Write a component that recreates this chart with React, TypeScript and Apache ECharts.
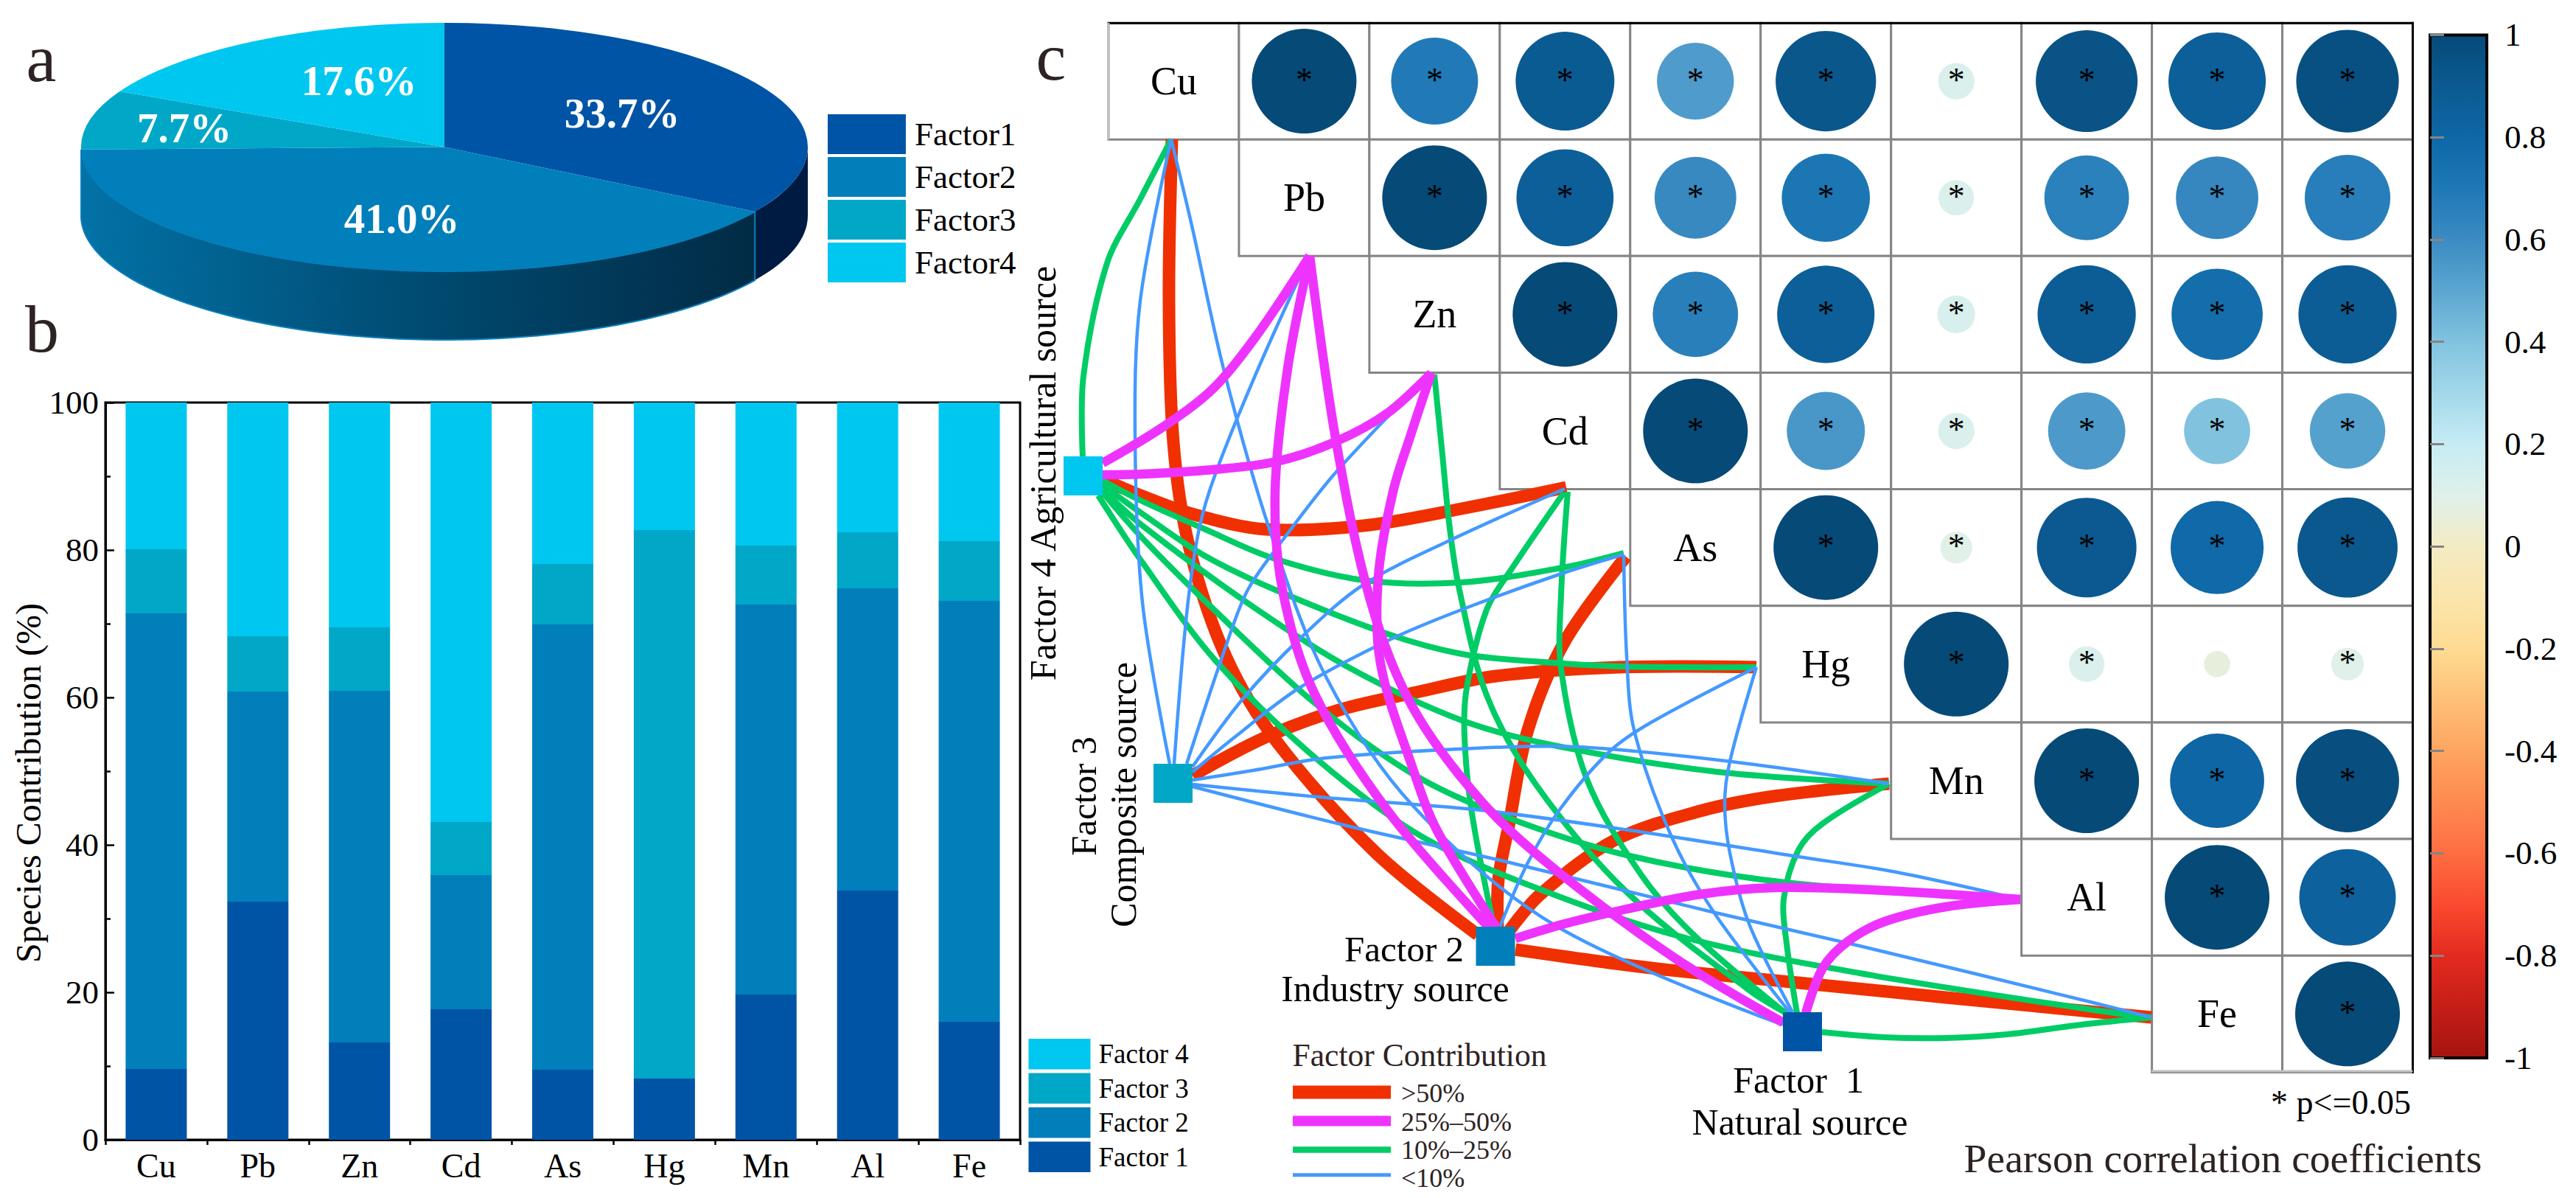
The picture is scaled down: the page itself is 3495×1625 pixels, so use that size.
import React, { useEffect, useRef } from "react";
import * as echarts from "echarts";

const W = 3495;
const H = 1625;
const SERIF = "Liberation Serif";

// ---------- data ----------
const pieNames = ["Factor1", "Factor2", "Factor3", "Factor4"];
const pieShares = [33.7, 41.0, 7.7, 17.6];
const pieLabels = ["33.7%", "41.0%", "7.7%", "17.6%"];

const elements = ["Cu", "Pb", "Zn", "Cd", "As", "Hg", "Mn", "Al", "Fe"];
const factorNames = ["Factor 1", "Factor 2", "Factor 3", "Factor 4"];
const factor1 = [9.6, 32.3, 13.2, 17.7, 9.5, 8.3, 19.7, 33.8, 16.0];
const factor2 = [61.8, 28.5, 47.7, 18.2, 60.4, 0, 52.9, 41.0, 57.1];
const factor3 = [8.7, 7.5, 8.6, 7.2, 8.2, 74.4, 8.0, 7.6, 8.1];
const factor4 = [19.9, 31.7, 30.5, 56.9, 21.9, 17.3, 19.4, 17.6, 18.8];
const factorValues = [factor1, factor2, factor3, factor4];

const rowCu = [1, 0.69, 0.89, 0.54, 0.92, 0.12, 0.945, 0.865, 0.96];
const rowPb = [1, 0.86, 0.61, 0.71, 0.115, 0.655, 0.62, 0.67];
const rowZn = [1, 0.665, 0.865, 0.13, 0.88, 0.76, 0.88];
const rowCd = [1, 0.557, 0.12, 0.545, 0.4, 0.52];
const rowAs = [1, 0.092, 0.905, 0.79, 0.915];
const rowHg = [1, 0.115, 0.0625, 0.098];
const rowMn = [1, 0.81, 0.97];
const rowAl = [1, 0.85];
const rowFe = [1];
const correlationRows = [rowCu, rowPb, rowZn, rowCd, rowAs, rowHg, rowMn, rowAl, rowFe];
const notSignificant = ["Hg-Al"];

const colorbarTicks = [-1, 1];

// ---------- style and layout ----------
const factorColors = ["#0054a6", "#007fbb", "#00a7c7", "#00c7f0"];
const scaleColors = [
  "#a6140e", "#c41e17", "#e42a20", "#fa4a2f", "#fe6d42", "#fe8a50", "#fea560",
  "#febf78", "#fedb92", "#fbe5ac", "#f3ebc4", "#dff1ea", "#c6ecf4", "#a3d8ea",
  "#81c3df", "#5ba6d1", "#3c8bc2", "#1e78b6", "#0e67a6", "#0b5a91", "#064a78",
];
const contributionClasses = [
  { label: ">50%", color: "#f03000", width: 17, legend: 18, min: 50 },
  { label: "25%–50%", color: "#ee33ff", width: 12.5, legend: 14, min: 25 },
  { label: "10%–25%", color: "#00cc66", width: 8, legend: 8.5, min: 10 },
  { label: "<10%", color: "#4499ff", width: 4.5, legend: 5, min: -1 },
];
const classDrawOrder = [0, 2, 3, 1];

const factorNodes = [
  [2445.5, 1399.5],
  [2029, 1283.5],
  [1591.5, 1062.5],
  [1469.5, 645.5],
];

// Routes of the connecting curves on the page, indexed [element][factor]
const routes: Record<string, number[][]> = {
  "Cu-3": [[1469, 620], [1470, 510], [1502, 357], [1547, 270], [1589, 189]],
  "Cu-1": [[1590, 189], [1586, 408], [1592, 600], [1613, 740], [1663, 890], [1733, 1007], [1867, 1157], [2005, 1268]],
  "Cu-2": [[1589, 189], [1547, 408], [1540, 590], [1550, 817], [1587, 1036]],
  "Cu-0": [[1589, 189], [1617, 306], [1660, 500], [1723, 720], [1800, 920], [1917, 1093], [2113, 1257], [2419, 1390]],
  "Pb-3": [[1496, 628], [1575, 581], [1645, 528], [1702, 459], [1777, 347]],
  "Pb-1": [[1777, 347], [1747, 500], [1730, 667], [1740, 800], [1783, 940], [1883, 1100], [2020, 1258]],
  "Pb-0": [[1777, 347], [1813, 600], [1860, 817], [1917, 960], [2010, 1087], [2107, 1177], [2273, 1300], [2419, 1387]],
  "Pb-2": [[1593, 1036], [1610, 833], [1627, 717], [1650, 640], [1707, 500], [1775, 350]],
  "Zn-3": [[1496, 644], [1550, 643], [1633, 638], [1727, 627], [1810, 600], [1883, 560], [1942, 506]],
  "Zn-1": [[1942, 506], [1913, 593], [1890, 667], [1870, 783], [1873, 900], [1917, 1043], [1950, 1127], [2030, 1258]],
  "Zn-0": [[1946, 508], [1957, 617], [1967, 717], [1980, 800], [2017, 943], [2083, 1063], [2207, 1210], [2373, 1343], [2425, 1375]],
  "Zn-2": [[1610, 1036], [1663, 877], [1693, 800], [1740, 733], [1813, 640], [1937, 510]],
  "Cd-3": [[1496, 650], [1550, 673], [1617, 697], [1717, 718], [1850, 713], [1983, 690], [2125, 661]],
  "Cd-1": [[2122, 668], [2050, 773], [2017, 827], [1990, 933], [1987, 1000], [1997, 1103], [2027, 1258]],
  "Cd-0": [[2127, 667], [2118, 807], [2118, 907], [2153, 1057], [2227, 1187], [2300, 1270], [2425, 1376]],
  "Cd-2": [[1618, 1040], [1687, 947], [1767, 863], [1850, 793], [1967, 733], [2123, 663]],
  "As-3": [[1496, 652], [1550, 680], [1633, 717], [1727, 757], [1850, 787], [1983, 790], [2120, 770], [2203, 750]],
  "As-1": [[2206, 755], [2123, 870], [2073, 990], [2047, 1120], [2033, 1193], [2032, 1258]],
  "As-0": [[2203, 753], [2207, 890], [2217, 990], [2267, 1133], [2327, 1240], [2430, 1375]],
  "As-2": [[1618, 1047], [1675, 1000], [1763, 933], [1887, 867], [1983, 827], [2113, 780], [2203, 752]],
  "Hg-3": [[1496, 658], [1550, 697], [1633, 753], [1730, 800], [1883, 860], [1983, 887], [2080, 897], [2200, 904], [2383, 905]],
  "Hg-2": [[1618, 1052], [1717, 1000], [1817, 963], [1917, 940], [2030, 917], [2197, 905], [2383, 905]],
  "Hg-1": [[2035, 1257], [2073, 1170], [2117, 1097], [2183, 1020], [2240, 980], [2383, 905]],
  "Hg-0": [[2383, 905], [2347, 1033], [2340, 1090], [2347, 1157], [2373, 1253], [2432, 1373]],
  "Mn-3": [[1496, 664], [1550, 713], [1700, 823], [1833, 907], [1983, 977], [2113, 1012], [2330, 1047], [2563, 1063]],
  "Mn-2": [[1618, 1058], [1700, 1045], [1800, 1028], [2000, 1015], [2140, 1013], [2340, 1032], [2563, 1063]],
  "Mn-1": [[2563, 1063], [2407, 1080], [2307, 1100], [2190, 1140], [2090, 1213], [2048, 1262]],
  "Mn-0": [[2563, 1063], [2473, 1117], [2440, 1153], [2420, 1220], [2424, 1280], [2438, 1374]],
  "Al-3": [[1496, 668], [1550, 730], [1643, 823], [1783, 953], [1917, 1050], [2040, 1107], [2207, 1160], [2423, 1197], [2741, 1220]],
  "Al-2": [[1618, 1064], [1800, 1082], [2000, 1098], [2190, 1123], [2440, 1162], [2573, 1183], [2741, 1220]],
  "Al-1": [[2056, 1273], [2123, 1253], [2207, 1233], [2307, 1213], [2407, 1204], [2540, 1207], [2741, 1220]],
  "Al-0": [[2741, 1220], [2640, 1230], [2557, 1250], [2507, 1277], [2473, 1313], [2450, 1374]],
  "Fe-3": [[1490, 672], [1550, 763], [1650, 897], [1787, 1030], [1933, 1137], [2107, 1213], [2290, 1273], [2523, 1320], [2840, 1370], [2919, 1380]],
  "Fe-2": [[1618, 1067], [1827, 1120], [2040, 1168], [2323, 1237], [2523, 1283], [2840, 1360], [2919, 1380]],
  "Fe-1": [[2056, 1288], [2240, 1313], [2440, 1333], [2640, 1353], [2919, 1380]],
  "Fe-0": [[2472, 1400], [2557, 1407], [2640, 1408], [2723, 1403], [2823, 1390], [2919, 1380]],
};

const PIE = { cx: 603, cy: 199.5, rx: 493, ry: 168.5, depth: 93 };
const pieLabelAt = [[844, 153], [545, 296], [250, 173], [487, 109]];
const MATRIX = { left: 1504, top: 31, width: 1769.5, height: 1423.4 };

function pieRenderer(index: number) {
  const total = pieShares.reduce((a, b) => a + b, 0);
  const before = pieShares.slice(0, index).reduce((a, b) => a + b, 0);
  return (_p: any, api: any) => {
    const a = (before / total) * 360;
    const b = a + (api.value(0) / total) * 360;
    const children: any[] = [];
    const from = Math.max(a, 90);
    const to = Math.min(b, 270);
    if (from < to) {
      const top: number[][] = [];
      const low: number[][] = [];
      const steps = Math.max(2, Math.ceil((to - from) / 2));
      for (let i = 0; i <= steps; i++) {
        const t = ((from + ((to - from) * i) / steps) * Math.PI) / 180;
        const x = PIE.cx + PIE.rx * Math.sin(t);
        const y = PIE.cy - PIE.ry * Math.cos(t);
        top.push([x, y]);
        low.unshift([x, y + PIE.depth]);
      }
      const fill =
        index === 1
          ? new echarts.graphic.LinearGradient(1, 0, 0, 0, [
              { offset: 0, color: "#022b45" },
              { offset: 0.5, color: "#004b72" },
              { offset: 1, color: "#0272a6" },
            ])
          : index === 0
          ? "#001b42"
          : "#0272a6";
      children.push({
        type: "polygon",
        shape: { points: top.concat(low) },
        style: { fill, stroke: index === 1 ? "#0a7fbb" : "none", lineWidth: 2 },
      });
    }
    children.push({
      type: "sector",
      x: PIE.cx,
      y: PIE.cy,
      scaleY: PIE.ry / PIE.rx,
      shape: {
        cx: 0,
        cy: 0,
        r0: 0,
        r: PIE.rx,
        startAngle: ((a - 90) * Math.PI) / 180,
        endAngle: ((b - 90) * Math.PI) / 180,
        clockwise: true,
      },
      style: { fill: factorColors[index] },
    });
    children.push({
      type: "text",
      x: pieLabelAt[index][0],
      y: pieLabelAt[index][1],
      z2: 10,
      style: {
        text: pieLabels[index],
        fill: "#fff",
        fontFamily: SERIF,
        fontWeight: "bold",
        fontSize: 57,
        align: "center",
        verticalAlign: "middle",
      },
    });
    return { type: "group", children };
  };
}

function classOf(share: number) {
  return contributionClasses.findIndex((c) => share > c.min);
}

function text(t: string, x: number, y: number, fontSize: number, extra: any = {}) {
  const { rotation, fill, align, ...rest } = extra;
  return {
    type: "text",
    x,
    y,
    rotation: rotation || 0,
    z: 20,
    silent: true,
    style: {
      text: t,
      fontFamily: SERIF,
      fontSize,
      fill: fill || "#000",
      align: align || "center",
      verticalAlign: "middle",
      ...rest,
    },
  };
}

function buildOption(): any {
  const series: any[] = [];

  // panel a
  pieNames.forEach((name, i) => {
    series.push({
      type: "custom",
      name,
      coordinateSystem: "none",
      renderItem: pieRenderer(i),
      itemStyle: { color: factorColors[i] },
      data: [[pieShares[i]]],
      silent: true,
    });
  });

  // panel b
  factorNames.forEach((name, i) => {
    series.push({
      type: "bar",
      name,
      stack: "species",
      xAxisIndex: 0,
      yAxisIndex: 0,
      barWidth: 83,
      itemStyle: { color: factorColors[i] },
      data: factorValues[i],
      silent: true,
    });
  });

  // panel c, cells
  const cellData: number[][] = [];
  correlationRows.forEach((_r, row) => {
    for (let col = row; col < 10; col++) cellData.push([col, row]);
  });
  series.push({
    type: "custom",
    name: "cells",
    xAxisIndex: 2,
    yAxisIndex: 1,
    clip: false,
    silent: true,
    z: 1,
    renderItem: (_p: any, api: any) => {
      const c = api.coord([api.value(0), api.value(1)]);
      const s = api.size([1, 1]);
      return {
        type: "rect",
        shape: { x: c[0] - s[0] / 2, y: c[1] - s[1] / 2, width: s[0], height: s[1] },
        style: { fill: "#fff", stroke: "#858585", lineWidth: 3 },
      };
    },
    data: cellData,
  });

  // diagonal names
  series.push({
    type: "custom",
    name: "names",
    xAxisIndex: 2,
    yAxisIndex: 1,
    clip: false,
    silent: true,
    z: 6,
    renderItem: (p: any, api: any) => {
      const c = api.coord([api.value(0), api.value(1)]);
      return {
        type: "text",
        x: c[0],
        y: c[1],
        style: {
          text: elements[p.dataIndex],
          fontFamily: SERIF,
          fontSize: 54,
          fill: "#000",
          align: "center",
          verticalAlign: "middle",
        },
      };
    },
    data: elements.map((_e, i) => [i, i]),
  });

  // correlation circles
  const circleData: any[] = [];
  correlationRows.forEach((values, row) => {
    values.forEach((r, k) => {
      const col = row + 1 + k;
      const pair = `${elements[row]}-${elements[col - 1]}`;
      circleData.push({
        value: [col, row, r],
        label: { show: !notSignificant.includes(pair) },
      });
    });
  });
  const circleIndex = series.length;
  series.push({
    type: "scatter",
    name: "Pearson",
    xAxisIndex: 2,
    yAxisIndex: 1,
    z: 4,
    silent: true,
    symbol: "circle",
    symbolSize: (v: number[]) => 142 * Math.sqrt(Math.abs(v[2])),
    itemStyle: { opacity: 1 },
    label: {
      show: true,
      position: "inside",
      formatter: "*",
      color: "#000",
      fontFamily: SERIF,
      fontSize: 46,
      offset: [0, -2],
    },
    data: circleData,
  });

  // colorbar
  series.push({
    type: "custom",
    name: "scale",
    xAxisIndex: 3,
    yAxisIndex: 2,
    clip: false,
    silent: true,
    z: 2,
    renderItem: (_p: any, api: any) => {
      const a = api.coord([0, api.value(1)]);
      const b = api.coord([1, api.value(0)]);
      return {
        type: "rect",
        shape: { x: a[0], y: a[1], width: b[0] - a[0], height: b[1] - a[1] },
        style: {
          fill: new echarts.graphic.LinearGradient(
            0,
            0,
            0,
            1,
            scaleColors
              .slice()
              .reverse()
              .map((color, i) => ({ offset: i / (scaleColors.length - 1), color }))
          ),
          stroke: "#000",
          lineWidth: 4,
        },
      };
    },
    data: [colorbarTicks],
  });

  // connecting curves
  classDrawOrder.forEach((cls) => {
    const spec = contributionClasses[cls];
    const edges: any[] = [];
    elements.forEach((el, e) => {
      factorValues.forEach((values, f) => {
        if (classOf(values[e]) === cls) edges.push([e, f, values[e]]);
      });
    });
    series.push({
      type: "custom",
      name: spec.label,
      xAxisIndex: 4,
      yAxisIndex: 3,
      clip: false,
      silent: true,
      z: 8,
      encode: { x: 0, y: 1 },
      renderItem: (_p: any, api: any) => {
        const key = `${elements[api.value(0)]}-${api.value(1)}`;
        const points = (routes[key] || []).map((pt) => api.coord(pt));
        return {
          type: "polyline",
          shape: { points, smooth: 0.33 },
          style: { fill: "none", stroke: spec.color, lineWidth: spec.width },
        };
      },
      data: edges,
    });
  });

  // factor nodes
  series.push({
    type: "scatter",
    name: "nodes",
    xAxisIndex: 4,
    yAxisIndex: 3,
    z: 12,
    silent: true,
    symbol: "rect",
    symbolSize: 53,
    itemStyle: { opacity: 1 },
    data: factorNodes.map((p, i) => ({ value: p, itemStyle: { color: factorColors[i], opacity: 1 } })),
  });

  const lineLegend: any[] = [];
  const legendY = [1481.6, 1520.5, 1559.5, 1593.7];
  const legendTextY = [1483, 1522, 1560, 1597.5];
  contributionClasses.forEach((c, i) => {
    lineLegend.push({
      type: "rect",
      z: 20,
      silent: true,
      shape: { x: 1754, y: legendY[i] - c.legend / 2, width: 133, height: c.legend },
      style: { fill: c.color },
    });
    lineLegend.push(text(c.label, 1901, legendTextY[i], 36, { align: "left", fill: "#2d2323" }));
  });

  return {
    animation: false,
    backgroundColor: "#fff",
    textStyle: { fontFamily: SERIF },
    legend: [
      {
        data: pieNames,
        orient: "vertical",
        left: 1123,
        top: 155,
        padding: 0,
        icon: "rect",
        itemWidth: 106,
        itemHeight: 54,
        itemGap: 4,
        selectedMode: false,
        textStyle: { fontFamily: SERIF, fontSize: 45, color: "#000", padding: [0, 0, 0, 7] },
      },
      {
        data: factorNames.slice().reverse(),
        orient: "vertical",
        left: 1395.5,
        top: 1409,
        padding: 0,
        icon: "rect",
        itemWidth: 84,
        itemHeight: 41.5,
        itemGap: 5,
        selectedMode: false,
        textStyle: { fontFamily: SERIF, fontSize: 37, color: "#000", padding: [0, 0, 0, 6] },
      },
    ],
    grid: [
      { left: 143, top: 546, width: 1241, height: 1000, show: true, borderColor: "#000", borderWidth: 3, backgroundColor: "transparent" },
      { left: MATRIX.left, top: MATRIX.top, width: MATRIX.width, height: MATRIX.height },
      { left: 3297, top: 47.4, width: 77, height: 1387.6 },
      { left: 0, top: 0, width: W, height: H },
    ],
    xAxis: [
      {
        gridIndex: 0,
        type: "category",
        data: elements,
        axisLine: { lineStyle: { color: "#000", width: 3 } },
        axisTick: { alignWithLabel: true, length: 12, lineStyle: { color: "#000", width: 2.5 } },
        axisLabel: { fontFamily: SERIF, fontSize: 46, color: "#000", margin: 12, interval: 0 },
      },
      {
        gridIndex: 0,
        type: "value",
        min: 0,
        max: 9,
        interval: 1,
        position: "bottom",
        axisLine: { show: false },
        axisTick: { show: true, length: 7, lineStyle: { color: "#000", width: 2.5 } },
        axisLabel: { show: false },
        splitLine: { show: false },
      },
      {
        gridIndex: 1,
        type: "category",
        data: [""].concat(elements),
        position: "top",
        z: 7,
        axisLine: { onZero: false, lineStyle: { color: "#000", width: 3 } },
        axisTick: { show: false },
        axisLabel: { show: false },
      },
      {
        gridIndex: 2,
        type: "value",
        min: 0,
        max: 1,
        show: false,
      },
      {
        gridIndex: 3,
        type: "value",
        min: 0,
        max: W,
        show: false,
      },
    ],
    yAxis: [
      {
        gridIndex: 0,
        type: "value",
        min: 0,
        max: 100,
        interval: 20,
        name: "Species Contribution (%)",
        nameLocation: "middle",
        nameGap: 63,
        nameRotate: 90,
        nameTextStyle: { fontFamily: SERIF, fontSize: 48, color: "#000", padding: [0, 32, 0, 0] },
        axisLine: { show: true, lineStyle: { color: "#000", width: 3 } },
        axisTick: { show: true, inside: true, length: 12, lineStyle: { color: "#000", width: 2.5 } },
        minorTick: { show: true, splitNumber: 2, length: 7, lineStyle: { color: "#000", width: 2.5 } },
        axisLabel: { fontFamily: SERIF, fontSize: 45, color: "#000", margin: 9 },
        splitLine: { show: false },
      },
      {
        gridIndex: 1,
        type: "category",
        data: elements,
        inverse: true,
        position: "right",
        z: 7,
        axisLine: { onZero: false, lineStyle: { color: "#000", width: 3 } },
        axisTick: { show: false },
        axisLabel: { show: false },
      },
      {
        gridIndex: 2,
        type: "value",
        min: -1,
        max: 1,
        interval: 0.2,
        position: "right",
        z: 7,
        axisLine: { show: false },
        axisTick: { show: true, length: 19, lineStyle: { color: "#858585", width: 3 } },
        axisLabel: { fontFamily: SERIF, fontSize: 45, color: "#000", margin: 24 },
        splitLine: { show: false },
      },
      {
        gridIndex: 3,
        type: "value",
        min: 0,
        max: H,
        inverse: true,
        show: false,
      },
    ],
    visualMap: {
      show: false,
      type: "continuous",
      seriesIndex: circleIndex,
      dimension: 2,
      min: -1,
      max: 1,
      inRange: { color: scaleColors },
    },
    graphic: {
      elements: [
        text("a", 56, 79, 92, { fill: "#2d2323" }),
        text("b", 57, 446, 92, { fill: "#2d2323" }),
        text("c", 1426, 77, 92, { fill: "#2d2323" }),
        text("Factor 4 Agricultural source", 1415, 642, 50, { rotation: Math.PI / 2 }),
        text("Factor 3", 1470, 1080, 49, { rotation: Math.PI / 2 }),
        text("Composite source", 1524, 1078, 50, { rotation: Math.PI / 2 }),
        text("Factor 2", 1905, 1287, 49),
        text("Industry source", 1893, 1341, 50),
        text("Factor  1", 2440, 1465, 50),
        text("Natural source", 2442, 1522, 50),
        text("Factor Contribution", 1926, 1431, 43.6, { fill: "#2d2323" }),
        text("* p<=0.05", 3271, 1495, 46, { align: "right" }),
        text("Pearson correlation coefficients", 3016, 1571, 55.6, { fill: "#2d2323" }),
        {
          type: "line",
          z: 15,
          silent: true,
          shape: { x1: 1504, y1: 31, x2: 1504, y2: 189 },
          style: { stroke: "#c0c0c0", lineWidth: 3 },
        },
        {
          type: "line",
          z: 15,
          silent: true,
          shape: { x1: 2919, y1: 1453, x2: 3273.5, y2: 1453 },
          style: { stroke: "#c0c0c0", lineWidth: 3 },
        },
        ...lineLegend,
      ],
    },
    series,
  };
}

export default function App() {
  const ref = useRef<HTMLDivElement>(null);
  useEffect(() => {
    const chart = echarts.init(ref.current as HTMLDivElement, undefined, {
      renderer: "svg",
      width: W,
      height: H,
    });
    chart.setOption(buildOption());
    return () => chart.dispose();
  }, []);
  return (
    <div
      ref={ref}
      style={{ position: "absolute", left: 0, top: 0, width: W, height: H, background: "#fff" }}
    />
  );
}
